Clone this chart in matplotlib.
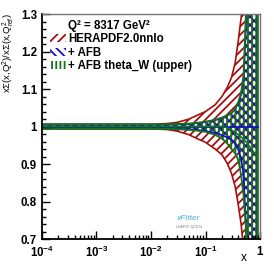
import matplotlib
matplotlib.use('Agg')
import matplotlib.pyplot as plt
from matplotlib.patches import Patch
from matplotlib.lines import Line2D
from matplotlib.ticker import FixedLocator, MultipleLocator, LogLocator, NullFormatter

plt.rcParams['font.family'] = ['Liberation Sans', 'DejaVu Sans']
plt.rcParams['font.weight'] = 'bold'
plt.rcParams['mathtext.fontset'] = 'custom'
plt.rcParams['mathtext.rm'] = 'Liberation Sans'
plt.rcParams['mathtext.bf'] = 'Liberation Sans:bold'
plt.rcParams['mathtext.default'] = 'regular'
plt.rcParams['hatch.linewidth'] = 1.3

# x grid of the ratio bands
x = [1e-4, 1e-3, 1e-2, 0.02, 0.03, 0.05, 0.07, 0.1, 0.15, 0.2, 0.25,
     0.3, 0.35, 0.4, 0.45, 0.5, 0.55, 0.6, 0.7, 0.8, 0.9]

# HERAPDF2.0nnlo band (ratio to reference)
hera_up = [1.006, 1.006, 1.006, 1.008, 1.011, 1.02, 1.03, 1.04, 1.058, 1.08, 1.104,
           1.131, 1.17, 1.23, 1.29, 1.36, 1.44, 1.52, 1.7, 1.95, 2.3]
hera_lo = [0.994, 0.994, 0.994, 0.992, 0.988, 0.978, 0.968, 0.958, 0.94, 0.925, 0.902,
           0.875, 0.84, 0.79, 0.74, 0.67, 0.59, 0.5, 0.3, 0.05, -0.3]

# + AFB band
afb_up = [1.005, 1.005, 1.005, 1.005, 1.006, 1.007, 1.009, 1.012, 1.017, 1.023, 1.029,
          1.036, 1.046, 1.062, 1.085, 1.13, 1.26, 1.42, 1.75, 2.1, 2.5]
afb_lo = [0.995, 0.995, 0.995, 0.995, 0.994, 0.993, 0.991, 0.988, 0.983, 0.977, 0.971,
          0.964, 0.954, 0.938, 0.915, 0.87, 0.74, 0.58, 0.25, -0.1, -0.5]
afb_c = [1.0] * len(x)

# + AFB theta_W (upper) band
thw_up = [1.006, 1.006, 1.006, 1.006, 1.007, 1.008, 1.01, 1.013, 1.018, 1.024, 1.03,
          1.036, 1.048, 1.066, 1.09, 1.14, 1.3, 1.45, 1.8, 2.2, 2.6]
thw_lo = [0.994, 0.994, 0.994, 0.994, 0.993, 0.991, 0.989, 0.986, 0.978, 0.968, 0.955,
          0.94, 0.928, 0.91, 0.87, 0.815, 0.73, 0.6, 0.3, 0.0, -0.3]
thw_c = [1.0, 1.0, 1.0, 1.0, 1.0, 1.0, 1.0, 1.0, 1.0, 1.0, 0.997,
         0.99, 0.985, 0.978, 0.972, 0.966, 0.96, 0.953, 0.94, 0.928, 0.915]

red, blue, green = '#a50f0f', '#1010c8', '#11751a'

fig = plt.figure(figsize=(2.74, 2.66), dpi=100)
ax = fig.add_axes([0.153, 0.1015, 0.796, 0.8455])

# hatched fills
ax.fill_between(x, hera_lo, hera_up, facecolor='none', edgecolor=red, hatch='////', lw=0)
ax.fill_between(x, afb_lo, afb_up, facecolor='none', edgecolor=blue, hatch='\\\\\\\\', lw=0)
ax.fill_between(x, thw_lo, thw_up, facecolor='none', edgecolor=green, hatch='||||', lw=0)

# band outlines and central lines
ax.fill_between(x, hera_lo, hera_up, facecolor='none', edgecolor=red, lw=1.2)
ax.plot(x, afb_c, color=blue, lw=1.3)
ax.fill_between(x, afb_lo, afb_up, facecolor='none', edgecolor=blue, lw=1.2)
ax.fill_between(x, thw_lo, thw_up, facecolor='none', edgecolor=green, lw=1.3)
ax.plot(x, thw_c, color=green, lw=1.2)

ax.set_xscale('log')
ax.set_xlim(1e-4, 1)
ax.set_ylim(0.7, 1.3)

ax.xaxis.set_major_locator(FixedLocator([1e-4, 1e-3, 1e-2, 1e-1, 1]))
ax.set_xticklabels([r'$\mathbf{10^{-4}}$', r'$\mathbf{10^{-3}}$', r'$\mathbf{10^{-2}}$',
                    r'$\mathbf{10^{-1}}$', r'$\mathbf{1}$'])
ax.xaxis.set_minor_locator(LogLocator(base=10, subs=range(2, 10), numticks=20))
ax.xaxis.set_minor_formatter(NullFormatter())

ax.yaxis.set_major_locator(FixedLocator([0.7, 0.8, 0.9, 1.0, 1.1, 1.2, 1.3]))
ax.set_yticklabels(['0.7', '0.8', '0.9', '1', '1.1', '1.2', '1.3'])
ax.yaxis.set_minor_locator(MultipleLocator(0.02))

ax.tick_params(which='both', direction='in', top=False, right=False, labelsize=8.3)
ax.tick_params(axis='x', which='major', pad=4)
ax.tick_params(which='major', length=6, width=1.0)
ax.tick_params(which='minor', length=3, width=1.0)
for s in ['left', 'bottom']:
    ax.spines[s].set_linewidth(1.3)
for s in ['top', 'right']:
    ax.spines[s].set_linewidth(1.0)
    ax.spines[s].set_color('0.45')

ax.set_xlabel('x', fontsize=8.5)
ax.xaxis.set_label_coords(0.925, -0.06)
ax.set_ylabel(r'x$\Sigma$(x,Q$^2$)/x$\Sigma$(x,Q$^2_{ref}$)', fontsize=6.8,
              fontweight='normal', loc='top')
ax.yaxis.set_label_coords(-0.118, 1.005)

handles = [Line2D([], [], linestyle='none'),
           Patch(facecolor='none', edgecolor=red, hatch='////', lw=0),
           Patch(facecolor='none', edgecolor=blue, hatch='\\\\\\\\', lw=0),
           Patch(facecolor='none', edgecolor=green, hatch='||||', lw=0)]
labels = ['Q² = 8317 GeV²', 'HERAPDF2.0nnlo', '+ AFB', '+ AFB theta_W (upper)']
ax.legend(handles, labels, loc='upper left', bbox_to_anchor=(0.0, 1.01),
          frameon=False, fontsize=8.3, handlelength=1.4, handleheight=0.7,
          handletextpad=0.2, labelspacing=0.12, borderpad=0.2)

# xFitter logo
ax.text(0.67, 0.09, 'xFitter', transform=ax.transAxes, fontsize=6, style='italic',
        fontweight='normal', color='#45a8e6', ha='center', va='center')
ax.text(0.675, 0.055, 'LHAPDF-QCD fit', transform=ax.transAxes, fontsize=2.5,
        fontweight='normal', color='0.5', ha='center', va='center')

fig.savefig('out.png', dpi=100)
